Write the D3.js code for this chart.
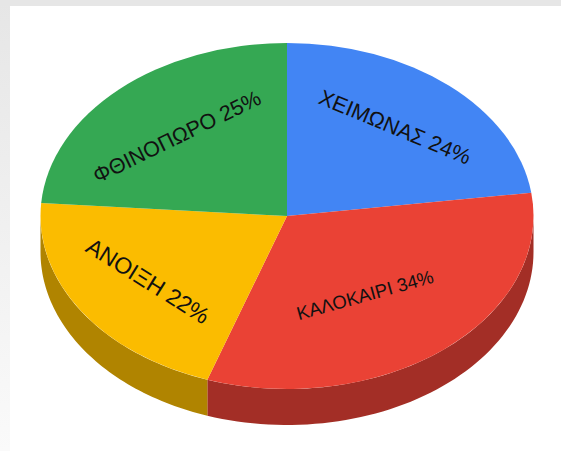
<!DOCTYPE html>
<html>
<head>
<meta charset="utf-8">
<script src="https://cdn.jsdelivr.net/npm/d3@7"></script>
<style>
html, body {margin: 0; padding: 0; background: #fff;}
svg {display: block;}
text {font-family: "Liberation Sans", Arial, sans-serif; fill: #111;}
</style>
</head>
<body>
<svg id="canvas" width="561" height="451"></svg>
<script>
var seasons = ["ΧΕΙΜΩΝΑΣ", "ΚΑΛΟΚΑΙΡΙ", "ΑΝΟΙΞΗ", "ΦΘΙΝΟΠΩΡΟ"];
var shares = [24, 34, 22, 25];

var topColors = ["#4285f4", "#ea4335", "#fbbc05", "#34a853"];
var sideColors = ["#2f5dab", "#a32f25", "#b08403", "#24763a"];

// label placement, in page pixels: centre x, centre y, rotation, font size
var labelX = [395, 365, 148, 177];
var labelY = [127, 295, 281, 137];
var labelAngle = [22.5, -15.5, 32, -26];
var labelSize = [21.7, 18.6, 23, 21.5];

var canvas_width = 561;
var canvas_height = 451;
var cx = 287, cy = 216;
var rx = 246.5, ry = 173;
var depth = 36;

var svg = d3.select("#canvas");

// grey screenshot edges round the white page
var defs = svg.append("defs");
var edge = defs.append("linearGradient").attr("id", "edge")
	.attr("x1", 0).attr("x2", 0).attr("y1", 0).attr("y2", 1);
edge.append("stop").attr("offset", 0).attr("stop-color", "#e6e6e6");
edge.append("stop").attr("offset", 1).attr("stop-color", "#fafafa");
defs.append("filter").attr("id", "soft")
	.append("feGaussianBlur").attr("stdDeviation", 0.5);

svg.append("rect").attr("width", canvas_width).attr("height", canvas_height).attr("fill", "#fff");
svg.append("rect").attr("width", 10).attr("height", canvas_height).attr("fill", "url(#edge)");
svg.append("rect").attr("width", canvas_width).attr("height", 6).attr("fill", "#e6e6e6");

var pie = d3.pie().sort(null).value(function(d) {return d;});
var slices = pie(shares);

var chart = svg.append("g").attr("filter", "url(#soft)");

// side wall: only the front half of the rim is visible
var rim = d3.line();
function wallPath(a0, a1) {
	var top = [], bottom = [];
	d3.range(0, 61).forEach(function(i) {
		var a = a0 + (a1 - a0) * i / 60;
		var x = cx + rx * Math.sin(a);
		var y = cy - ry * Math.cos(a);
		top.push([x, y]);
		bottom.unshift([x, y + depth]);
	});
	return rim(top.concat(bottom)) + "Z";
}

slices.forEach(function(s, i) {
	var a0 = Math.max(s.startAngle, Math.PI / 2);
	var a1 = Math.min(s.endAngle, Math.PI * 1.5);
	if (a1 <= a0) return;
	chart.append("path").attr("d", wallPath(a0, a1)).attr("fill", sideColors[i]);
});

// top face is a flat pie squashed into an ellipse
var arc = d3.arc().innerRadius(0).outerRadius(rx);
chart.append("g")
	.attr("transform", "translate(" + cx + "," + cy + ") scale(1," + (ry / rx) + ")")
	.selectAll("path").data(slices).enter()
	.append("path")
	.attr("d", arc)
	.attr("fill", function(d, i) {return topColors[i];});

svg.selectAll("text").data(seasons).enter()
	.append("text")
	.attr("text-anchor", "middle")
	.attr("dominant-baseline", "central")
	.attr("font-size", function(d, i) {return labelSize[i];})
	.attr("transform", function(d, i) {
		return "translate(" + labelX[i] + "," + labelY[i] + ") rotate(" + labelAngle[i] + ")";
	})
	.text(function(d, i) {return d + " " + shares[i] + "%";});
</script>
</body>
</html>
